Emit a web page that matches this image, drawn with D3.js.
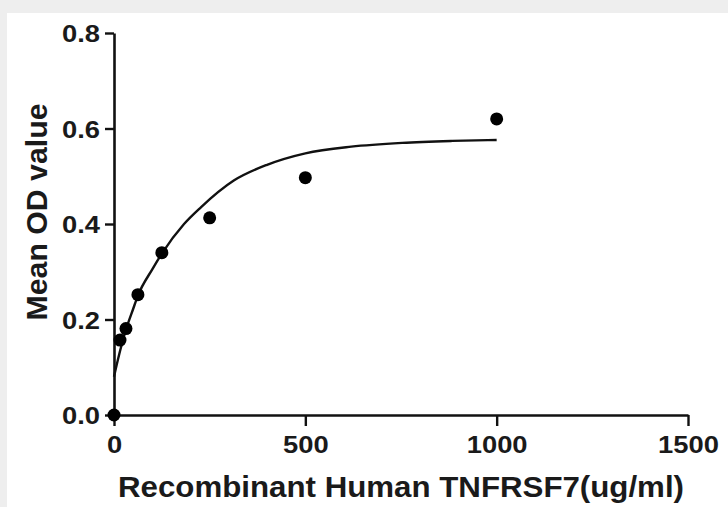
<!DOCTYPE html>
<html>
<head>
<meta charset="utf-8">
<script src="https://cdn.jsdelivr.net/npm/d3@7"></script>
<style>
  html, body { margin: 0; padding: 0; background: #eeeeee; }
  svg { display: block; }
</style>
</head>
<body>
<svg id="chart" width="728" height="507"></svg>
<script>
// Data
const concentrations = [0, 15.625, 31.25, 62.5, 125, 250, 500, 1000];
const meanOD = [0.0, 0.157, 0.181, 0.252, 0.340, 0.413, 0.497, 0.620];
const fitX = [0, 10, 20, 31, 50, 62.5, 100, 125, 183, 227, 313, 400, 500, 620, 753, 884, 1000];
const fitY = [0.080, 0.115, 0.147, 0.178, 0.222, 0.250, 0.305, 0.338, 0.400, 0.435, 0.491, 0.524, 0.548, 0.562, 0.570, 0.574, 0.576];
const xTicks = [0, 500, 1000, 1500];
const yTicks = [0.0, 0.2, 0.4, 0.6, 0.8];
const xTitle = "Recombinant Human TNFRSF7(ug/ml)";
const yTitle = "Mean OD value";

const svg = d3.select("#chart");
svg.append("rect").attr("x", 7).attr("y", 13).attr("width", 721).attr("height", 494).attr("fill", "#ffffff");

const x = d3.scaleLinear().domain([0, 1500]).range([114, 688]);
const y = d3.scaleLinear().domain([0, 0.8]).range([415, 33]);

const font = "'Liberation Sans', Arial, Helvetica, sans-serif";
const stretch = 1.14;

// Y axis
const yAxis = svg.append("g").attr("transform", `translate(${x(0)},0)`)
  .call(d3.axisLeft(y).tickValues(yTicks).tickFormat(d3.format(".1f")).tickSizeOuter(0).tickSizeInner(9).tickPadding(5));
// X axis
const xAxis = svg.append("g").attr("transform", `translate(0,${y(0)})`)
  .call(d3.axisBottom(x).tickValues(xTicks).tickFormat(d3.format("d")).tickSizeOuter(0).tickSizeInner(11).tickPadding(10));

[yAxis, xAxis].forEach(g => {
  g.select(".domain").attr("stroke", "#111").attr("stroke-width", 2.6);
  g.selectAll(".tick line").attr("stroke", "#111").attr("stroke-width", 2.4);
  g.selectAll(".tick text").attr("fill", "#1a1a1a").style("font-family", font)
    .style("font-weight", "bold").style("font-size", "24px")
    .attr("transform", `scale(${stretch},1)`);
});
yAxis.selectAll(".tick text").attr("dy", "0.36em").attr("x", -14 / stretch);
xAxis.selectAll(".tick text").attr("dy", "0.71em");

// Fitted curve
const fitData = fitX.map((v, i) => [v, fitY[i]]);
svg.append("path").datum(fitData)
  .attr("fill", "none").attr("stroke", "#111").attr("stroke-width", 2.4)
  .attr("d", d3.line().x(d => x(d[0])).y(d => y(d[1])).curve(d3.curveMonotoneX));

// Points
const pts = concentrations.map((v, i) => [v, meanOD[i]]);
svg.append("g").selectAll("circle").data(pts).join("circle")
  .attr("cx", d => x(d[0])).attr("cy", d => y(d[1])).attr("r", 6.5).attr("fill", "#000");

// Titles
svg.append("text").attr("x", 401).attr("y", 497).attr("text-anchor", "middle")
  .attr("textLength", 566).attr("lengthAdjust", "spacingAndGlyphs")
  .style("font-family", font).style("font-weight", "bold").style("font-size", "30px")
  .attr("fill", "#1a1a1a").text(xTitle);
svg.append("text").attr("transform", "translate(47,212) rotate(-90)").attr("text-anchor", "middle")
  .attr("textLength", 217).attr("lengthAdjust", "spacingAndGlyphs")
  .style("font-family", font).style("font-weight", "bold").style("font-size", "30px")
  .attr("fill", "#1a1a1a").text(yTitle);
</script>
</body>
</html>
